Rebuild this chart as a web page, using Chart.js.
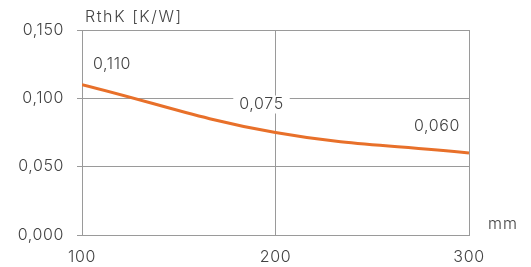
<!DOCTYPE html>
<html>
<head>
<meta charset="utf-8">
<script src="https://cdn.jsdelivr.net/npm/chart.js@4"></script>
<style>
html,body{margin:0;padding:0;background:#fff;}
#wrap{position:relative;width:531px;height:267px;}
</style>
</head>
<body>
<div id="wrap"><canvas id="c" width="531" height="267"></canvas></div>
<script>
const lengths = [100, 200, 300];
const rthValues = [0.110, 0.075, 0.060];
const valueLabels = ['0,110', '0,075', '0,060'];
const yTickLabels = ['0,000', '0,050', '0,100', '0,150'];
const xTickLabels = ['100', '200', '300'];
const yTitle = 'RthK [K/W]';
const xTitle = 'mm';

const FONT = 'Inter, "DejaVu Sans", sans-serif';
const TXT = '#444444';
const GRID = '#9a9a9a';

const spacingPlugin = {
  id: 'spacing',
  beforeDraw(chart) { chart.ctx.letterSpacing = '0.6px'; }
};

const labelPlugin = {
  id: 'labels',
  afterDatasetsDraw(chart) {
    const ctx = chart.ctx;
    const xs = chart.scales.x, ys = chart.scales.y;
    const offs = [[30, -20, false], [-14, -28, true], [-32, -27, false]];
    ctx.save();
    ctx.letterSpacing = '0.6px';
    ctx.font = '300 16px ' + FONT;
    ctx.fillStyle = TXT;
    ctx.textAlign = 'center';
    ctx.textBaseline = 'middle';
    valueLabels.forEach((t, i) => {
      const px = xs.getPixelForValue(lengths[i]) + offs[i][0];
      const py = ys.getPixelForValue(rthValues[i]) + offs[i][1];
      if (offs[i][2]) {
        const w = ctx.measureText(t).width;
        ctx.fillStyle = '#fff';
        ctx.fillRect(px - w / 2 - 6, py - 9, w + 12, 18);
        ctx.fillStyle = TXT;
      }
      ctx.fillText(t, px, py);
    });
    ctx.textAlign = 'left';
    ctx.letterSpacing = '1.6px';
    ctx.fillText(yTitle, chart.chartArea.left + 3, chart.chartArea.top - 13);
    ctx.letterSpacing = '1px';
    ctx.fillText(xTitle, chart.chartArea.right + 19, chart.chartArea.bottom - 11);
    ctx.restore();
  }
};

new Chart(document.getElementById('c'), {
  type: 'line',
  data: {
    datasets: [{
      data: lengths.map((x, i) => ({x: x, y: rthValues[i]})),
      borderColor: '#E8702A',
      borderWidth: 3,
      pointRadius: 0,
      tension: 0.4,
      fill: false
    }]
  },
  options: {
    responsive: false,
    animation: false,
    layout: {padding: {top: 30, right: 62, left: 0, bottom: 0}},
    plugins: {legend: {display: false}, tooltip: {enabled: false}},
    scales: {
      x: {
        type: 'linear', min: 100, max: 300,
        afterFit(s) { s.height = 32; },
        ticks: {stepSize: 100, padding: 13, color: TXT, font: {family: FONT, size: 16, weight: 300},
          callback: (v) => xTickLabels[lengths.indexOf(v)]},
        grid: {color: GRID, lineWidth: 1, drawTicks: false},
        border: {color: GRID, width: 1}
      },
      y: {
        min: 0, max: 0.15,
        afterFit(s) { s.width = 82; },
        ticks: {stepSize: 0.05, padding: 13, color: TXT, font: {family: FONT, size: 16, weight: 300},
          callback: (v, i) => yTickLabels[i]},
        grid: {color: GRID, lineWidth: 1, tickLength: 5},
        border: {color: GRID, width: 1}
      }
    }
  },
  plugins: [spacingPlugin, labelPlugin]
});
</script>
</body>
</html>
